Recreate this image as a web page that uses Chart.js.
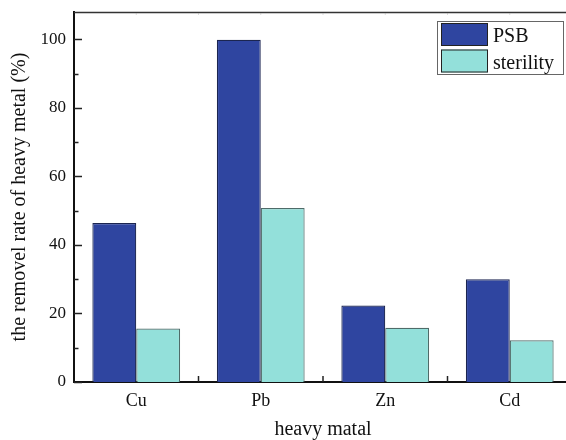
<!DOCTYPE html>
<html>
<head>
<meta charset="utf-8">
<script src="https://cdn.jsdelivr.net/npm/chart.js@4.4.0/dist/chart.umd.min.js"></script>
<style>
  html, body { margin:0; padding:0; background:#fff; overflow:hidden; }
  #wrap { width:566px; height:440px; overflow:hidden; }
</style>
</head>
<body>
<div id="wrap"><canvas id="bar_graph" width="576" height="440"></canvas></div>
<script>
// data
let metals=['Cu','Pb','Zn','Cd'];
let psb=[46.4, 99.9, 22.3, 30.0];
let sterility=[15.6, 50.8, 15.8, 12.2];
let y_ticks=[0,20,40,60,80,100];
let y_minor=[10,30,50,70,90];

const FONT='"Liberation Serif", "Times New Roman", serif';

// inward ticks + top frame line
const frame_plugin={
  id:'frame',
  afterDraw(chart){
    const ctx=chart.ctx;
    const area=chart.chartArea;
    const y=chart.scales.y;
    const x=chart.scales.x;
    ctx.save();
    ctx.strokeStyle='#222';
    ctx.lineWidth=1.5;
    y_ticks.forEach(v=>{
      let py=Math.round(y.getPixelForValue(v))+0.5;
      ctx.beginPath(); ctx.moveTo(area.left,py); ctx.lineTo(area.left+8,py); ctx.stroke();
    });
    y_minor.forEach(v=>{
      let py=Math.round(y.getPixelForValue(v))+0.5;
      ctx.beginPath(); ctx.moveTo(area.left,py); ctx.lineTo(area.left+4.5,py); ctx.stroke();
    });
    for(let i=0;i<metals.length-1;i++){
      let px=(x.getPixelForValue(i)+x.getPixelForValue(i+1))/2;
      ctx.beginPath(); ctx.moveTo(px,area.bottom); ctx.lineTo(px,area.bottom-6); ctx.stroke();
    }
    // top frame line
    ctx.strokeStyle='#333';
    ctx.lineWidth=1.5;
    ctx.beginPath(); ctx.moveTo(area.left,area.top+0.5); ctx.lineTo(area.right,area.top+0.5); ctx.stroke();
    ctx.strokeStyle='#bbb';
    ctx.lineWidth=1;
    for(let i=0;i<metals.length;i++){
      let c=x.getPixelForValue(i);
      [c, c+x.width/metals.length/2].forEach(px=>{
        ctx.beginPath(); ctx.moveTo(px,area.top+1); ctx.lineTo(px,area.top+2.5); ctx.stroke();
      });
    }
    ctx.restore();
  }
};

// boxed legend in the top right
const legend_plugin={
  id:'boxlegend',
  afterDraw(chart){
    const ctx=chart.ctx;
    const sets=chart.data.datasets;
    ctx.save();
    ctx.strokeStyle='#666';
    ctx.lineWidth=1;
    ctx.strokeRect(437.5,21.5,126,53);
    sets.forEach((ds,i)=>{
      let top=23+i*26.5;
      ctx.fillStyle=ds.backgroundColor;
      ctx.fillRect(441,top,47,23);
      ctx.strokeStyle='#222';
      ctx.strokeRect(441.5,top+0.5,46,22);
      ctx.fillStyle='#111';
      ctx.font='20px '+FONT;
      ctx.textBaseline='alphabetic';
      ctx.fillText(ds.label,493,top+19);
    });
    ctx.restore();
  }
};

new Chart(document.getElementById('bar_graph').getContext('2d'),{
  type:'bar',
  data:{
    labels:metals,
    datasets:[{
      label:'PSB',
      data:psb,
      backgroundColor:'#2F45A0',
      borderColor:'#1B2550',
      borderWidth:1.2,
      barPercentage:1,
      categoryPercentage:0.705
    },{
      label:'sterility',
      data:sterility,
      backgroundColor:'#93E0DA',
      borderColor:'#4F6B69',
      borderWidth:1.2,
      barPercentage:1,
      categoryPercentage:0.705
    }]
  },
  options:{
    responsive:false,
    animation:false,
    layout:{padding:{top:12,right:4,left:0,bottom:0}},
    plugins:{
      legend:{display:false},
      tooltip:{enabled:false}
    },
    scales:{
      x:{
        grid:{display:false,drawTicks:false},
        border:{display:true,color:'#111',width:2},
        ticks:{color:'#111',font:{family:FONT,size:18},padding:8},
        title:{display:true,text:'heavy matal',color:'#111',font:{family:FONT,size:20},padding:{top:8,bottom:-2}},
        afterFit(scale){ scale.height=58; scale.paddingLeft=0; scale.paddingRight=0; }
      },
      y:{
        min:0,
        max:108,
        afterBuildTicks(scale){ scale.ticks=y_ticks.map(v=>({value:v})); },
        grid:{display:false,drawTicks:false},
        border:{display:true,color:'#111',width:2},
        ticks:{color:'#111',font:{family:FONT,size:17},padding:8},
        title:{display:true,text:'the removel rate of heavy metal (%)',color:'#111',font:{family:FONT,size:20},padding:{top:8,bottom:0}},
        afterFit(scale){ scale.width=74; scale.paddingTop=0; scale.paddingBottom=0; }
      }
    }
  },
  plugins:[frame_plugin,legend_plugin]
});
</script>
</body>
</html>
